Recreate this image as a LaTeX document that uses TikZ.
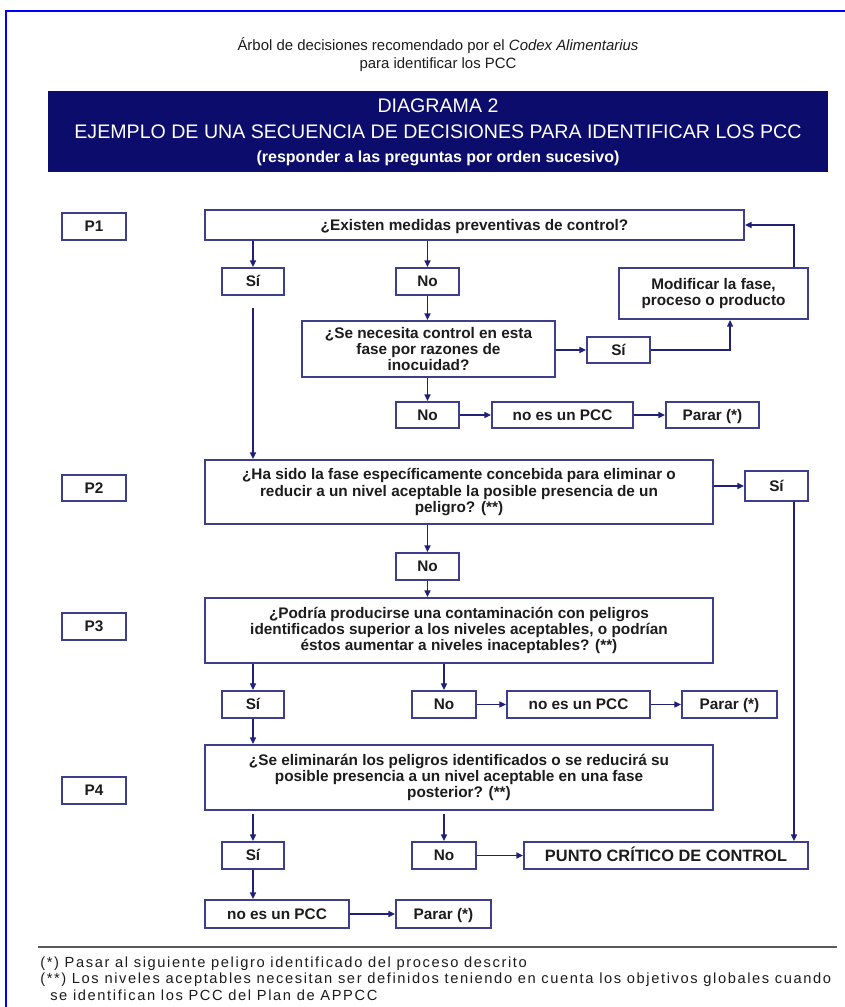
\documentclass[tikz,border=0pt]{standalone}
\usepackage{fontspec}
\setmainfont{Liberation Sans}
\newfontfamily\footfont[LetterSpace=11]{Liberation Sans}
\usetikzlibrary{arrows.meta,calc}
\definecolor{framec}{RGB}{0,0,255}
\definecolor{bandc}{RGB}{12,12,108}
\definecolor{boxc}{RGB}{62,62,142}
\definecolor{arrc}{RGB}{32,32,118}
\definecolor{txtc}{RGB}{28,28,28}
\definecolor{sepc}{RGB}{90,90,90}
\begin{document}
\begin{tikzpicture}[x=0.75pt,y=-0.75pt,
  box/.style={draw=boxc, line width=1.5pt, fill=white, inner sep=0pt, align=center,
    font=\bfseries\fontsize{11.5}{12.2}\selectfont, text=txtc},
  one/.style={text height=8.2pt, text depth=0pt},
  wh/.style 2 args={minimum width={#1*0.75pt}, minimum height={#2*0.75pt}},
  arr/.style={draw=arrc, line width=1.1pt, -{Triangle[length=5pt,width=4.5pt]}},
  bandtxt/.style={text=white, inner sep=0pt, font=\fontsize{14.7}{15}\selectfont},
  foot/.style={anchor=west, inner sep=0pt, text=txtc, font=\footfont\fontsize{11}{12}\selectfont}]
\useasboundingbox (0,0) rectangle (845,1007);
\fill[white] (0,0) rectangle (845,1007);
% frame
\coordinate (fr1) at (6,1007);
\coordinate (fr2) at (6,11);
\coordinate (fr3) at (845,11);
\draw[framec, line width=1.6pt] (fr1) -- (fr2) -- (fr3);
% title
\node[text=txtc, align=center, inner sep=0pt, font=\fontsize{11.2}{13.5}\selectfont] (title) at (438,55)
  {Árbol de decisiones recomendado por el \textit{Codex Alimentarius}\\para identificar los PCC};
% band
\fill[bandc] (48,91) rectangle (828,172);
\node[bandtxt] (b1) at (438,106) {DIAGRAMA 2};
\node[bandtxt] (b2) at (438,132) {EJEMPLO DE UNA SECUENCIA DE DECISIONES PARA IDENTIFICAR LOS PCC};
\node[bandtxt, font=\bfseries\fontsize{12}{15}\selectfont] (b3) at (438,158) {(responder a las preguntas por orden sucesivo)};
% left labels
\node[box, one, wh={64}{27}] (P1) at (94,226.5) {P1};
\node[box, one, wh={64}{26}] (P2) at (94,488) {P2};
\node[box, one, wh={64}{27}] (P3) at (94,626.5) {P3};
\node[box, one, wh={64}{27}] (P4) at (94,790.5) {P4};
% P1 level
\node[box, one, wh={539}{30}] (Q1) at (474.5,225) {¿Existen medidas preventivas de control?};
\node[box, one, wh={62}{27}] (S1) at (253,281.5) {Sí};
\node[box, one, wh={63}{27}] (N1) at (427.5,281.5) {No};
\node[box, wh={253}{56}] (Q1b) at (428.5,349) {¿Se necesita control en esta\\fase por razones de\\inocuidad?};
\node[box, one, wh={63}{26}] (S1b) at (618.5,350) {Sí};
\node[box, wh={189}{51}] (Mod) at (713.5,293.5) {Modificar la fase,\\proceso o producto};
\node[box, one, wh={63}{26}] (N1b) at (427.5,415) {No};
\node[box, one, wh={141}{26}] (NP1) at (562.5,415) {no es un PCC};
\node[box, one, wh={93}{26}] (Pa1) at (712.5,415) {Parar (*)};
% P2 level
\node[box, wh={508}{64}] (Q2) at (459,492) {¿Ha sido la fase específicamente concebida para eliminar o\\reducir a un nivel aceptable la posible presencia de un\\peligro? (**)};
\node[box, one, wh={63}{30}] (S2) at (776.5,486) {Sí};
\node[box, one, wh={63}{27}] (N2) at (427.5,566.5) {No};
% P3 level
\node[box, wh={508}{65}] (Q3) at (459,630.5) {¿Podría producirse una contaminación con peligros\\identificados superior a los niveles aceptables, o podrían\\éstos aumentar a niveles inaceptables? (**)};
\node[box, one, wh={62}{27}] (S3) at (253,704.5) {Sí};
\node[box, one, wh={64}{27}] (N3) at (444,704.5) {No};
\node[box, one, wh={143}{27}] (NP3) at (578.5,704.5) {no es un PCC};
\node[box, one, wh={95}{27}] (Pa3) at (729.5,704.5) {Parar (*)};
% P4 level
\node[box, wh={508}{65}] (Q4) at (459,777.5) {¿Se eliminarán los peligros identificados o se reducirá su\\posible presencia a un nivel aceptable en una fase\\posterior? (**)};
\node[box, one, wh={62}{27}] (S4) at (253,855.5) {Sí};
\node[box, one, wh={64}{27}] (N4) at (444,855.5) {No};
\node[box, wh={284}{27}, font=\bfseries\fontsize{12.3}{14}\selectfont, text height=8.8pt, text depth=0pt] (PCC) at (666,855.5) {PUNTO CRÍTICO DE CONTROL};
\node[box, one, wh={144}{28}] (NP4) at (277,914) {no es un PCC};
\node[box, one, wh={95}{28}] (Pa4) at (443.5,914) {Parar (*)};
% connectors P1
\draw[arr] (S1 |- Q1.south) -- (S1.north);
\draw[arr] (N1 |- Q1.south) -- (N1.north);
\draw[arr] (N1.south) -- (N1.south |- Q1b.north);
\draw[arr] (Q1b.east |- S1b.west) -- (S1b.west);
\draw[arr] (S1b.east) -| ([xshift=12.4pt]Mod.south);
\draw[arr] ([xshift=-11.25pt]Mod.north east) |- (Q1.east);
\draw[arr] (N1b |- Q1b.south) -- (N1b.north);
\draw[arr] (N1b.east) -- (NP1.west);
\draw[arr] (NP1.east) -- (Pa1.west);
\draw[arr, shorten <=9pt] (S1.south) -- (S1 |- Q2.north);
% P2
\draw[arr] (Q2.east |- S2.west) -- (S2.west);
\draw[arr] ([xshift=-11.25pt]S2.south east) -- ([xshift=-11.25pt]PCC.north east);
\draw[arr] (N2 |- Q2.south) -- (N2.north);
\draw[arr] (N2.south) -- (N2 |- Q3.north);
% P3
\draw[arr] (S3 |- Q3.south) -- (S3.north);
\draw[arr] (N3 |- Q3.south) -- (N3.north);
\draw[arr] (N3.east) -- (NP3.west);
\draw[arr] (NP3.east) -- (Pa3.west);
\draw[arr] (S3.south) -- (S3 |- Q4.north);
% P4
\draw[arr, shorten <=2.5pt] (S4 |- Q4.south) -- (S4.north);
\draw[arr, shorten <=2.5pt] (N4 |- Q4.south) -- (N4.north);
\draw[arr] (N4.east) -- (PCC.west);
\draw[arr] (S4.south) -- (S4 |- NP4.north);
\draw[arr] (NP4.east) -- (Pa4.west);
% footer
\coordinate (sepL) at (38,947);
\coordinate (sepR) at (837,947);
\draw[sepc, line width=1.2pt] (sepL) -- (sepR);
\node[foot] (f1) at (40,964) {(*) Pasar al siguiente peligro identificado del proceso descrito};
\node[foot] (f2) at (40,979.5) {(**) Los niveles aceptables necesitan ser definidos teniendo en cuenta los objetivos globales cuando};
\node[foot] (f3) at (50,995) {se identifican los PCC del Plan de APPCC};
\end{tikzpicture}
\end{document}
